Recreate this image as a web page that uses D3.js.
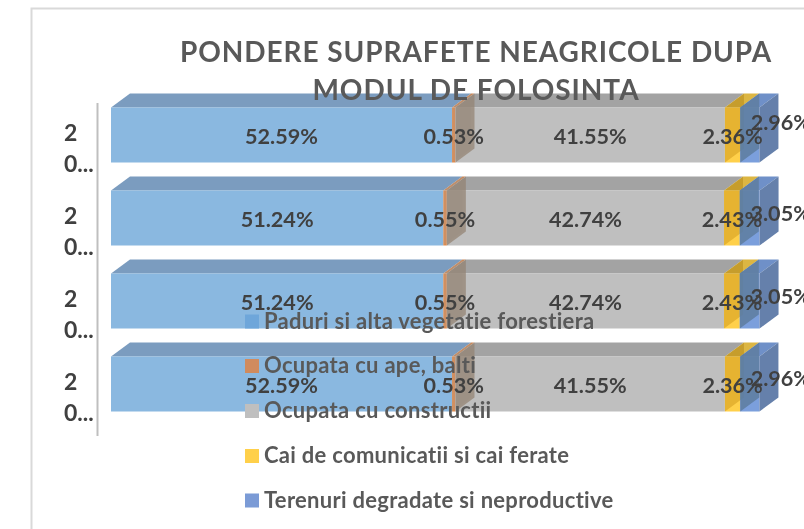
<!DOCTYPE html>
<html><head><meta charset="utf-8"><script src="https://cdn.jsdelivr.net/npm/d3@7"></script>
<style>html,body{margin:0;background:#fff}svg{display:block;font-family:Lato,sans-serif;font-weight:700;filter:blur(0.35px)}</style></head><body>
<svg id="c" width="804" height="529"></svg>
<script>
const categories=["2 0...","2 0...","2 0...","2 0..."];
const seriesNames=["Paduri si alta vegetatie forestiera","Ocupata cu ape, balti","Ocupata cu constructii","Cai de comunicatii si cai ferate","Terenuri degradate si neproductive"];
const paduri=[52.59,51.24,51.24,52.59];
const ape=[0.53,0.55,0.55,0.53];
const constructii=[41.55,42.74,42.74,41.55];
const cai=[2.36,2.43,2.43,2.36];
const terenuri=[2.96,3.05,3.05,2.96];
const titleLines=["PONDERE SUPRAFETE NEAGRICOLE DUPA","MODUL DE FOLOSINTA"];
const frontColors=["#8ab8e0","#e08a4c","#bfbfbf","#ffd04a","#7b9fdc"];
const topColors=["#7b9cbf","#c8885a","#a3a3a3","#dcb643","#6f90c8"];
const sideColors=["#a0a0a0","#938272","#e6dca8","#5f7fa3","#6580ab"];
const sideOpacity=[.25,.72,1,.92,1];
const sideBlend=["normal","normal","multiply","normal","normal"];
const legendColors=["#6ea6da","#d08b5e","#bfbfbf","#ffd04a","#7b9bd6"];
const series=[paduri,ape,constructii,cai,terenuri];
const svg=d3.select("#c");
const dx=19,dy=14;
const x=d3.scaleLinear().domain([0,100]).range([111,759.5]);
const rowScale=d3.scalePoint().domain(d3.range(4)).range([107.5,356.5]);
const h=55;
svg.append("path").attr("d","M31.5,529V8.5H804").attr("fill","none").attr("stroke","#d9d9d9").attr("stroke-width",2);
svg.append("line").attr("x1",97.5).attr("x2",97.5).attr("y1",103).attr("y2",436).attr("stroke","#bfbfbf").attr("stroke-width",2);
const rows=d3.range(4).map(r=>{let c=0;return series.map((s,i)=>{const o={r,i,v:s[r],a:c,b:c+s[r]};c+=s[r];return o;});});
const all=rows.flat();
const g=svg.append("g").style("isolation","isolate");
g.selectAll(".top").data(all).join("path").attr("fill",d=>topColors[d.i])
 .attr("d",d=>`M${x(d.a)},${rowScale(d.r)}l${dx},${-dy}H${x(d.b)+dx}l${-dx},${dy}Z`);
g.selectAll(".front").data(all).join("rect").attr("x",d=>x(d.a)).attr("y",d=>rowScale(d.r)).attr("width",d=>x(d.b)-x(d.a)).attr("height",h).attr("fill",d=>frontColors[d.i]);
g.selectAll(".side").data(all).join("path").attr("fill",d=>sideColors[d.i]).attr("fill-opacity",d=>sideOpacity[d.i]).style("mix-blend-mode",d=>sideBlend[d.i])
 .attr("d",d=>`M${x(d.b)},${rowScale(d.r)}l${dx},${-dy}v${h}l${-dx},${dy}Z`);
svg.selectAll(".t").data(titleLines).join("text").attr("x",476).attr("y",(d,i)=>[62,100][i]).attr("text-anchor","middle").attr("font-size",28).attr("letter-spacing",.94).attr("fill","#595959").text(d=>d);
categories.forEach((c,r)=>{const [a,b]=c.split(" ");
 svg.append("text").attr("x",64).attr("y",rowScale(r)+33).attr("font-size",23).attr("fill","#404040").text(a);
 svg.append("text").attr("x",64).attr("y",rowScale(r)+64).attr("font-size",23).attr("fill","#404040").text(b);});
const lastDy=[-14,-6,-6,-7];
svg.selectAll(".l").data(all).join("text").attr("text-anchor","middle").attr("font-size",21.6).attr("fill","#404040")
 .attr("x",d=>(x(d.a)+x(d.b))/2+(d.i==4?31:0)).attr("y",d=>rowScale(d.r)+36+(d.i==4?lastDy[d.r]:0)).text(d=>d3.format(".2f")(d.v)+"%");
const ly=[321.5,366,411,456,500.5];
seriesNames.forEach((n,i)=>{
 svg.append("rect").attr("x",245).attr("y",ly[i]-7).attr("width",14).attr("height",14).attr("fill",legendColors[i]);
 svg.append("text").attr("x",264).attr("y",ly[i]+7).attr("font-size",22).attr("letter-spacing",.29).attr("fill","#595959").text(n);});
</script></body></html>
